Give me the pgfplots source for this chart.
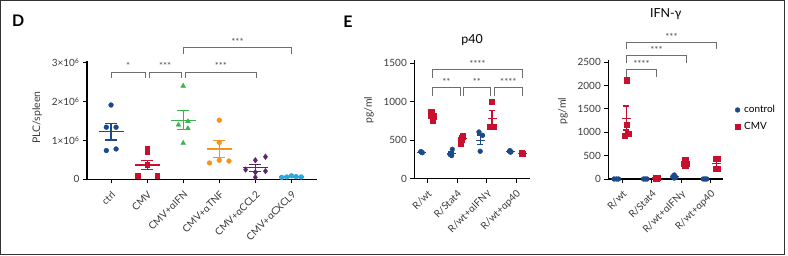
\documentclass[border=0pt]{standalone}
\usepackage{fontspec}
\setmainfont{Lato}
\usepackage{pgfplots}
\pgfplotsset{compat=1.18}
\definecolor{ctrlblue}{HTML}{1A4A8C}
\definecolor{cmvred}{HTML}{C8102E}
\definecolor{ifngreen}{HTML}{3BB54A}
\definecolor{tnforange}{HTML}{F7941E}
\definecolor{cclpurple}{HTML}{5E2569}
\definecolor{cxcllight}{HTML}{2BA8E0}
\definecolor{tickgray}{HTML}{3A3A3A}
\definecolor{brgray}{HTML}{6E6E6E}
\definecolor{stargray}{HTML}{505050}
\definecolor{framegray}{HTML}{333333}
\newcommand\msem[5]{%
 \addplot[#1, line width=1.2bp, forget plot] coordinates {(#2,#4) (#2,#5)};
 \addplot[#1, only marks, mark=-, mark size=\capw, mark options={line width=1.2bp}, forget plot] coordinates {(#2,#4) (#2,#5)};
 \addplot[#1, only marks, mark=-, mark size=\meanw, mark options={line width=1.2bp}, forget plot] coordinates {(#2,#3)};
}
\newcommand\brk[5]{% x1 x2 ytop ydrop label
 \addplot[brgray, line width=0.8bp, forget plot] coordinates {(#1,#4) (#1,#3) (#2,#3) (#2,#4)};
 \node[anchor=base, text=stargray, font=\fontsize{9.5}{10}\selectfont, yshift=2bp, inner sep=0pt] at (axis cs:{(#1+#2)/2},#3) {#5};
}
\pgfplotsset{
 panel/.style={
  scale only axis, clip=false, anchor=south west,
  axis x line*=bottom, axis y line*=left,
  axis line style={-, line width=1.3bp, black},
  tick align=outside, major tick length=4bp,
  tick style={black, line width=1bp},
  yticklabel style={font=\fontsize{10}{12}\selectfont, text=tickgray},
  xticklabel style={font=\fontsize{10}{12}\selectfont, text=tickgray, xshift=5bp, yshift=-7bp, rotate=45, anchor=east},
  ylabel style={font=\fontsize{10.5}{12}\selectfont, text=tickgray, anchor=center},
  title style={font=\fontsize{12.5}{14}\selectfont, text=black, anchor=base},
  scaled ticks=false,
 },
}
\begin{document}
\begin{tikzpicture}
\useasboundingbox (0,0) rectangle (788bp,256bp);
\draw[line width=1bp, framegray] (0.5bp,1.5bp) rectangle (784.5bp,255.5bp);
\node[font=\fontsize{16}{18}\selectfont\bfseries] at (18.3bp,235.7bp) {D};
\node[font=\fontsize{16}{18}\selectfont\bfseries] at (348bp,234.7bp) {E};

% ---------------- Panel D
\def\capw{6bp}\def\meanw{12.5bp}
\begin{axis}[panel, at={(87bp,76.7bp)}, width=229.7bp, height=118.6bp,
  xmin=-0.666, xmax=5.70, ymin=0, ymax=3.05,
  xtick={0,1,2,3,4,5},
  xticklabels={ctrl,CMV,CMV+αIFN,CMV+αTNF,CMV+αCCL2,CMV+αCXCL9},
  ytick={0,1,2,3},
  yticklabels={0,1×10\textsuperscript{6},2×10\textsuperscript{6},3×10\textsuperscript{6}},
  ylabel={PLC/spleen},
  ylabel style={at={(axis description cs:-0.217,0.521)}},
]
\addplot[only marks, mark=*, ctrlblue, mark size=2.4bp] coordinates {(0,1.91) (-0.13,1.34) (0.14,1.34) (-0.13,0.74) (0.14,0.78)};
\addplot[only marks, mark=square*, cmvred, mark size=2.4bp] coordinates {(1,0.80) (1,0.70) (1,0.38) (0.73,0.10) (1.28,0.10)};
\addplot[only marks, mark=triangle*, ifngreen, mark size=2.8bp] coordinates {(2,2.40) (1.87,1.40) (2.13,1.49) (2.13,1.31) (2,0.93)};
\addplot[only marks, mark=*, tnforange, mark size=2.4bp] coordinates {(3,1.52) (3,0.95) (2.73,0.42) (3,0.49) (3.27,0.47)};
\addplot[only marks, mark=diamond*, cclpurple, mark size=2.8bp] coordinates {(4.28,0.58) (4,0.49) (3.73,0.25) (4.28,0.21) (4,0.18) (4,0.05)};
\addplot[only marks, mark=*, cxcllight, mark size=2.4bp] coordinates {(4.73,0.05) (4.87,0.06) (5,0.09) (5.13,0.07) (5.27,0.06)};
\msem{ctrlblue}{0}{1.22}{1.01}{1.44}
\msem{cmvred}{1}{0.37}{0.26}{0.48}
\msem{ifngreen}{2}{1.52}{1.28}{1.76}
\msem{tnforange}{3}{0.78}{0.57}{0.99}
\msem{cclpurple}{4}{0.30}{0.21}{0.38}
\msem{cxcllight}{5}{0.06}{0.05}{0.07}
\brk{0.0}{0.95}{2.76}{2.61}{*}
\brk{1.061}{1.939}{2.76}{2.61}{***}
\brk{2.07}{4.018}{2.76}{2.61}{***}
\brk{2.003}{5.007}{3.38}{3.21}{***}
\end{axis}

% ---------------- Panel E p40
\def\capw{3bp}\def\meanw{4.5bp}
\begin{axis}[panel, at={(414.3bp,77.3bp)}, width=115.7bp, height=118.6bp,
  xmin=0.56, xmax=4.46, ymin=0, ymax=1540,
  xtick={1,2,3,4},
  xticklabels={R/wt,R/Stat4,R/wt+αIFNγ,R/wt+αp40},
  ytick={0,500,1000,1500}, yticklabels={0,500,1000,1500},
  ylabel={pg/ml},
  ylabel style={at={(axis description cs:-0.392,0.579)}},
  title={p40}, title style={at={(axis description cs:0.5,1.088)}},
]
\addplot[only marks, mark=*, ctrlblue, mark size=2.4bp] coordinates {(0.78,352) (0.83,338) (0.80,345) (1.84,382) (1.76,317) (1.82,300) (1.79,312) (2.74,606) (2.86,563) (2.78,356) (3.78,365) (3.82,350) (3.80,345)};
\addplot[only marks, mark=square*, cmvred, mark size=2.6bp] coordinates {(1.13,865) (1.21,812) (1.17,750) (1.10,820) (2.20,563) (2.16,533) (2.14,503) (2.12,460) (2.19,545) (3.18,1005) (3.12,675) (3.24,675) (4.18,330) (4.22,322) (4.20,326)};
\msem{ctrlblue}{0.80}{345}{338}{352}
\msem{cmvred}{1.17}{812}{785}{840}
\msem{ctrlblue}{1.80}{328}{310}{347}
\msem{cmvred}{2.17}{520}{497}{542}
\msem{ctrlblue}{2.78}{500}{447}{568}
\msem{cmvred}{3.18}{784}{684}{883}
\msem{ctrlblue}{3.80}{353}{346}{360}
\msem{cmvred}{4.20}{326}{322}{330}
\brk{1.167}{4.200}{1421}{1312}{****}
\brk{1.167}{2.110}{1182}{1070}{**}
\brk{2.211}{3.135}{1182}{1070}{**}
\brk{3.256}{4.200}{1182}{1070}{****}
\end{axis}

% ---------------- Panel E IFN-gamma
\begin{axis}[panel, at={(608.3bp,77bp)}, width=115bp, height=119bp,
  xmin=0.527, xmax=4.42, ymin=0, ymax=2550,
  xtick={1,2,3,4},
  xticklabels={R/wt,R/Stat4,R/wt+αIFNγ,R/wt+αp40},
  ytick={0,500,1000,1500,2000,2500}, yticklabels={0,500,1000,1500,2000,2500},
  ylabel={pg/ml},
  ylabel style={at={(axis description cs:-0.394,0.571)}},
  title={IFN-γ}, title style={at={(axis description cs:0.5,1.303)}},
  legend style={draw=none, fill=none, at={(axis description cs:1.10,0.51)}, anchor=west,
    font=\fontsize{10}{12}\selectfont, row sep=4bp, inner sep=0pt,
    /tikz/every odd column/.append style={column sep=2bp}},
  legend cell align=left,
  legend image code/.code={\draw[#1] plot coordinates {(0bp,0bp)};},
]
\addplot[only marks, mark=*, ctrlblue, mark size=2.4bp] coordinates {(0.72,0) (0.80,0) (0.87,0) (1.72,0) (1.78,0) (1.84,0) (2.76,86) (2.71,50) (2.81,35) (2.76,20) (3.74,0) (3.80,0) (3.86,0)};
\addlegendentry{control}
\addplot[only marks, mark=square*, cmvred, mark size=2.6bp] coordinates {(1.14,2115) (1.14,1164) (1.07,936) (1.20,979) (2.12,20) (2.18,30) (2.15,12) (2.21,22) (3.13,422) (3.09,336) (3.18,334) (3.13,279) (4.22,443) (4.16,429) (4.16,229) (4.22,229)};
\addlegendentry{CMV}
\msem{cmvred}{1.14}{1300}{1050}{1564}
\msem{cmvred}{2.16}{21}{14}{28}
\msem{ctrlblue}{2.76}{48}{28}{68}
\msem{cmvred}{3.13}{343}{300}{380}
\msem{cmvred}{4.19}{336}{265}{407}
\brk{1.136}{2.165}{2342}{2192}{****}
\brk{1.136}{3.181}{2642}{2492}{***}
\brk{1.136}{4.196}{2929}{2786}{***}
\end{axis}
\end{tikzpicture}
\end{document}
